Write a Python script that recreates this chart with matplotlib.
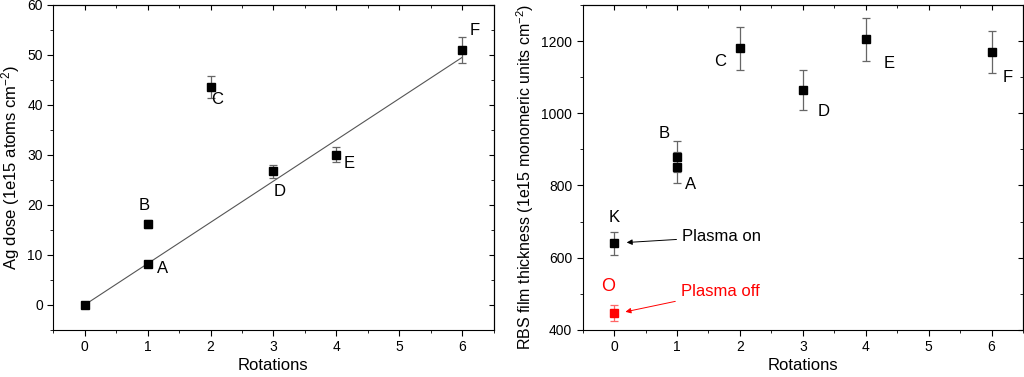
import numpy as np
import matplotlib
matplotlib.use("Agg")
import matplotlib.pyplot as plt
from matplotlib.ticker import MultipleLocator

plt.rcParams['font.family'] = ['Liberation Sans', 'DejaVu Sans']
plt.rcParams['mathtext.fontset'] = 'custom'
plt.rcParams['mathtext.rm'] = 'Liberation Sans'
plt.rcParams['mathtext.it'] = 'Liberation Sans:italic'

# left panel: Ag dose
dose_x = [0, 1, 1, 2, 3, 4, 6]
dose_y = [0, 8.2, 16.2, 43.5, 26.7, 30.0, 51.0]
dose_err = [0.3, 0.4, 0.8, 2.2, 1.3, 1.5, 2.6]
fit_x = [0, 6]
fit_y = [0, 49.5]
dose_labels = ['A', 'B', 'C', 'D', 'E', 'F']
dose_label_pos = [(1.24, 7.2), (0.95, 19.8), (2.1, 41.1), (3.1, 22.7), (4.2, 28.3), (6.2, 54.8)]

# right panel: RBS thickness
rbs_x = [1, 1, 2, 3, 4, 6, 0]
rbs_y = [850, 880, 1180, 1065, 1205, 1170, 640]
rbs_err = [42, 43, 60, 55, 60, 58, 32]
off_x = [0]
off_y = [447]
off_err = [22]
rbs_labels = ['A', 'B', 'C', 'D', 'E', 'F', 'K']
rbs_label_pos = [(1.22, 803), (0.8, 945), (1.68, 1144), (3.33, 1005), (4.37, 1139), (6.25, 1100), (0.0, 711)]


def style_axes(ax):
    ax.tick_params(which='both', direction='out', top=False, right=False, labelsize=10)
    ax.tick_params(which='major', length=4)
    ax.tick_params(which='minor', length=2.5)
    sec = ax.secondary_xaxis('top')
    sec.tick_params(which='both', direction='in', labeltop=False)
    sec.set_xticks(ax.get_xticks())
    sec.set_xticklabels([])
    secy = ax.secondary_yaxis('right')
    secy.tick_params(which='both', direction='in', labelright=False)
    secy.set_yticks(ax.get_yticks())
    secy.set_yticklabels([])
    secy.yaxis.set_minor_locator(ax.yaxis.get_minor_locator())
    sec.xaxis.set_minor_locator(MultipleLocator(0.5))


fig = plt.figure(figsize=(10.24, 3.77), dpi=100)
ax1 = fig.add_axes([0.052, 0.125, 0.430, 0.862])
ax2 = fig.add_axes([0.569, 0.125, 0.430, 0.862])

# left
ax1.plot(fit_x, fit_y, color='#555555', lw=0.8)
ax1.errorbar(dose_x, dose_y, yerr=dose_err, fmt='s', color='black', ms=6,
             ecolor='#666666', elinewidth=0.9, capsize=3, capthick=0.9)
for lab, (tx, ty) in zip(dose_labels, dose_label_pos):
    ax1.text(tx, ty, lab, fontsize=12, ha='center', va='center')
ax1.set_xlim(-0.5, 6.5)
ax1.set_ylim(-5, 60)
ax1.set_xticks(range(0, 7))
ax1.set_yticks(range(0, 61, 10))
ax1.xaxis.set_minor_locator(MultipleLocator(0.5))
ax1.yaxis.set_minor_locator(MultipleLocator(5))
ax1.set_xlabel('Rotations', fontsize=12, labelpad=3)
ax1.set_ylabel('Ag dose (1e15 atoms cm$^{-2}$)', fontsize=12)
style_axes(ax1)

# right
ax2.errorbar(rbs_x, rbs_y, yerr=rbs_err, fmt='s', color='black', ms=6,
             ecolor='#666666', elinewidth=0.9, capsize=3, capthick=0.9)
ax2.errorbar(off_x, off_y, yerr=off_err, fmt='s', color='red', ms=6,
             ecolor='#ff6666', elinewidth=0.9, capsize=3, capthick=0.9)
for lab, (tx, ty) in zip(rbs_labels, rbs_label_pos):
    ax2.text(tx, ty, lab, fontsize=12, ha='center', va='center')
ax2.text(-0.1, 520, 'O', fontsize=13, color='red', ha='center', va='center')
ax2.annotate('Plasma on', xy=(0.2, 642), xytext=(1.08, 658), fontsize=12,
             va='center', ha='left',
             arrowprops=dict(arrowstyle='-|>', color='black', lw=0.7, mutation_scale=8,
                             shrinkA=2, shrinkB=0))
ax2.annotate('Plasma off', xy=(0.18, 450), xytext=(1.06, 505), fontsize=12, color='red',
             va='center', ha='left',
             arrowprops=dict(arrowstyle='-|>', color='red', lw=0.7, mutation_scale=8,
                             shrinkA=2, shrinkB=0))
ax2.set_xlim(-0.5, 6.5)
ax2.set_ylim(400, 1300)
ax2.set_xticks(range(0, 7))
ax2.set_yticks(range(400, 1201, 200))
ax2.xaxis.set_minor_locator(MultipleLocator(0.5))
ax2.yaxis.set_minor_locator(MultipleLocator(100))
ax2.set_xlabel('Rotations', fontsize=12, labelpad=3)
ax2.set_ylabel('RBS film thickness (1e15 monomeric units cm$^{-2}$)', fontsize=11.5)
ax2.yaxis.set_label_coords(-0.105, 0.47)
style_axes(ax2)

fig.savefig('out.png', dpi=100)
